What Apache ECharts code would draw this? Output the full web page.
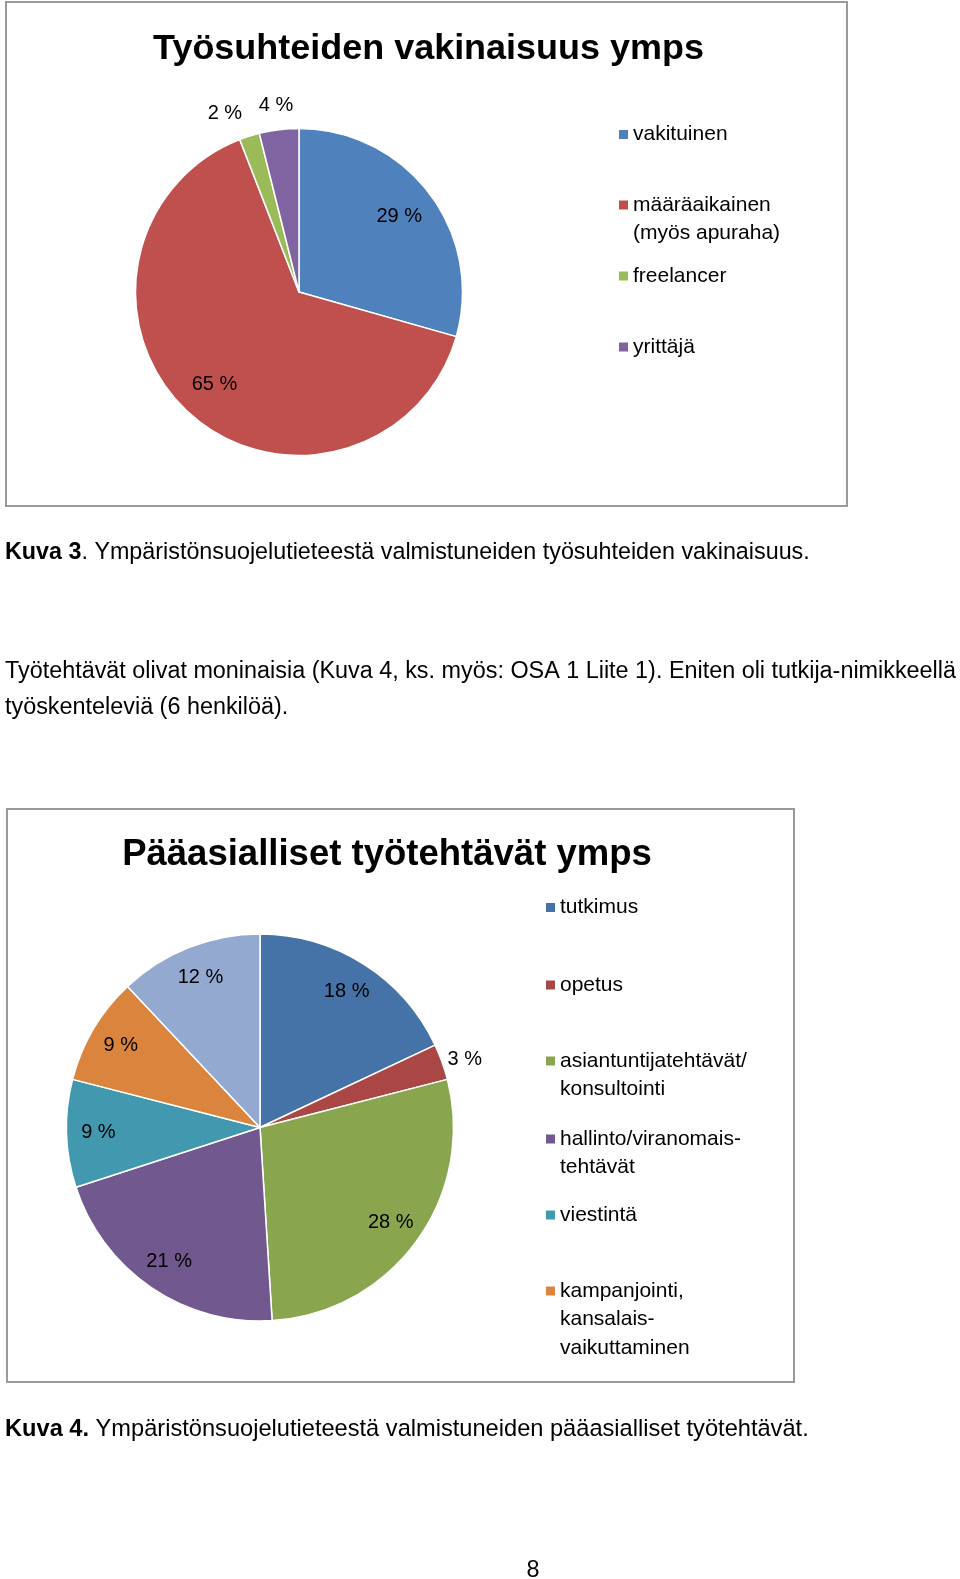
<!DOCTYPE html>
<html><head><meta charset="utf-8">
<script src="https://cdn.jsdelivr.net/npm/echarts@6/dist/echarts.min.js"></script>
<style>html,body{margin:0;padding:0;background:#fff}#c{width:960px;height:1579px}</style>
</head><body><div id="c"></div>
<script>
// ---- Data: chart 1 (Kuva 3) ----
const chart1Title = 'Työsuhteiden vakinaisuus ymps';
const chart1Names = ['vakituinen', 'määräaikainen (myös apuraha)', 'freelancer', 'yrittäjä'];
const chart1LegendLabels = ['vakituinen', 'määräaikainen\n(myös apuraha)', 'freelancer', 'yrittäjä'];
const chart1Values = [29.4, 64.7, 2.0, 3.9];
const chart1Colors = ['#4F81BD', '#C0504D', '#9BBB59', '#8064A2'];

// ---- Data: chart 2 (Kuva 4) ----
const chart2Title = 'Pääasialliset työtehtävät ymps';
const chart2Names = ['tutkimus', 'opetus', 'asiantuntijatehtävät/konsultointi', 'hallinto/viranomaistehtävät', 'viestintä', 'kampanjointi, kansalaisvaikuttaminen', 'muu'];
const chart2LegendLabels = ['tutkimus', 'opetus', 'asiantuntijatehtävät/\nkonsultointi', 'hallinto/viranomais-\ntehtävät', 'viestintä', 'kampanjointi,\nkansalais-\nvaikuttaminen'];
const chart2Values = [18, 3, 28, 21, 9, 9, 12];
const chart2Colors = ['#4572A7', '#AA4643', '#89A54E', '#71588F', '#4198AF', '#DB843D', '#93A9CF'];

// ---- Page texts ----
const caption1Bold = 'Kuva 3';
const caption1Rest = '. Ympäristönsuojelutieteestä valmistuneiden työsuhteiden vakinaisuus.';
const paragraphLines = ['Työtehtävät olivat moninaisia (Kuva 4, ks. myös: OSA 1 Liite 1). Eniten oli tutkija-nimikkeellä', 'työskenteleviä (6 henkilöä).'];
const caption2Bold = 'Kuva 4.';
const caption2Rest = ' Ympäristönsuojelutieteestä valmistuneiden pääasialliset työtehtävät.';
const pageNumber = '8';

// ---- Layout ----
const FONT = '"Liberation Sans", Arial, sans-serif';
const mctx = document.createElement('canvas').getContext('2d');
function tw(text, size, weight) { mctx.font = weight + ' ' + size + 'px "Liberation Sans"'; return mctx.measureText(text).width; }
function fit(parts, target) { const b = parts.reduce((s, p) => s + tw(p[0], 100, p[1]), 0); return 100 * target / b; }

const chart = echarts.init(document.getElementById('c'), null, { renderer: 'canvas' });

function pieSeries(cx, cy, R, names, values, colors, innerFrac, outerFrac) {
  const total = values.reduce((a, b) => a + b, 0);
  // horizontal alignment of outside labels follows the side of the slice's mid-angle
  let cum = 0;
  const outAlign = values.map(v => {
    const mid = 2 * Math.PI * (cum + v / 2) / total; cum += v;
    const s = Math.sin(mid);
    return s < -0.2 ? 'right' : (s > 0.2 ? 'left' : 'center');
  });
  const base = {
    type: 'pie', center: [cx, cy], startAngle: 90, clockwise: true,
    avoidLabelOverlap: false, animation: false, emphasis: { disabled: true },
    labelLine: { show: false }, labelLayout: { hideOverlap: false }
  };
  const lbl = { position: 'inside', color: '#000', fontSize: 20, fontFamily: FONT,
    formatter: p => Math.round(p.percent) + ' %' };
  return [
    Object.assign({}, base, {
      radius: R,
      label: { show: false },
      itemStyle: { borderColor: '#fff', borderWidth: 1.5 },
      data: names.map((n, i) => ({ name: n, value: values[i], itemStyle: { color: colors[i] } }))
    }),
    Object.assign({}, base, {
      radius: [R * innerFrac, R], silent: true,
      itemStyle: { color: 'rgba(0,0,0,0)', borderWidth: 0 },
      label: lbl,
      data: names.map((n, i) => ({ name: n, value: values[i], label: { show: values[i] / total >= 0.05 } }))
    }),
    Object.assign({}, base, {
      radius: [R, R * outerFrac], silent: true,
      itemStyle: { color: 'rgba(0,0,0,0)', borderWidth: 0 },
      label: lbl,
      labelLayout: p => ({ align: outAlign[p.dataIndex], hideOverlap: false }),
      data: names.map((n, i) => ({ name: n, value: values[i], label: { show: values[i] / total < 0.05 } }))
    })
  ];
}

function legends(names, labels, left, iconYs, L) {
  return labels.map((lab, i) => {
    const n = lab.split('\n').length;
    return {
      data: [names[i]], orient: 'vertical', left: left, top: iconYs[i] - (2 * n - 1) * L / 2,
      padding: 0, itemWidth: 9, itemHeight: 9, itemGap: 0, icon: 'rect', selectedMode: false,
      itemStyle: { borderWidth: 0 },
      formatter: () => '\n'.repeat(n - 1) + lab,
      textStyle: { fontSize: 21, fontFamily: FONT, color: '#000', lineHeight: L }
    };
  });
}

function txt(x, y, text, size, weight, align) {
  return { type: 'text', x: x, y: y, silent: true,
    style: { text: text, fontSize: size, fontWeight: weight || 'normal', fontFamily: FONT, fill: '#000',
      align: align || 'left', textAlign: align || 'left', verticalAlign: 'middle', textVerticalAlign: 'middle' } };
}
function richTxt(x, y, bold, rest, size) {
  return { type: 'text', x: x, y: y, silent: true,
    style: { text: '{b|' + bold + '}{r|' + rest + '}', fill: '#000', align: 'left', verticalAlign: 'middle',
      textAlign: 'left', textVerticalAlign: 'middle',
      rich: { b: { fontSize: size, fontWeight: 'bold', fontFamily: FONT, fill: '#000', color: '#000' },
              r: { fontSize: size, fontWeight: 'normal', fontFamily: FONT, fill: '#000', color: '#000' } } } };
}

const t1Size = fit([[chart1Title, 'bold']], 551);
const t2Size = fit([[chart2Title, 'bold']], 530);
const c1Size = fit([[caption1Bold, 'bold'], [caption1Rest, 'normal']], 805);
const c2Size = fit([[caption2Bold, 'bold'], [caption2Rest, 'normal']], 804);
const p1Size = fit([[paragraphLines[0], 'normal']], 952);

const option = {
  backgroundColor: '#fff',
  legend: [].concat(
    legends(chart1Names, chart1LegendLabels, 619, [134.5, 205, 276, 347], 28.5),
    legends(chart2Names, chart2LegendLabels, 546, [907.5, 985, 1061, 1139, 1215, 1291], 28.5)
  ),
  series: [].concat(
    pieSeries(299, 292, 163.5, chart1Names, chart1Values, chart1Colors, 0.5, 1.26),
    pieSeries(260, 1127.5, 193.5, chart2Names, chart2Values, chart2Colors, 0.64, 1.03)
  ),
  graphic: [
    { type: 'rect', silent: true, shape: { x: 6, y: 2, width: 841, height: 504 }, style: { fill: 'none', stroke: '#9a9a9a', lineWidth: 2 } },
    { type: 'rect', silent: true, shape: { x: 7, y: 809, width: 787, height: 573 }, style: { fill: 'none', stroke: '#9a9a9a', lineWidth: 2 } },
    txt(428.5, 49.5, chart1Title, t1Size, 'bold', 'center'),
    txt(387, 855, chart2Title, t2Size, 'bold', 'center'),
    richTxt(5, 553, caption1Bold, caption1Rest, c1Size),
    txt(5, 672, paragraphLines[0], p1Size),
    txt(5, 708, paragraphLines[1], p1Size),
    richTxt(5, 1429, caption2Bold, caption2Rest, c2Size),
    txt(533, 1571, pageNumber, p1Size, 'normal', 'center')
  ]
};
chart.setOption(option);
</script>
</body></html>
